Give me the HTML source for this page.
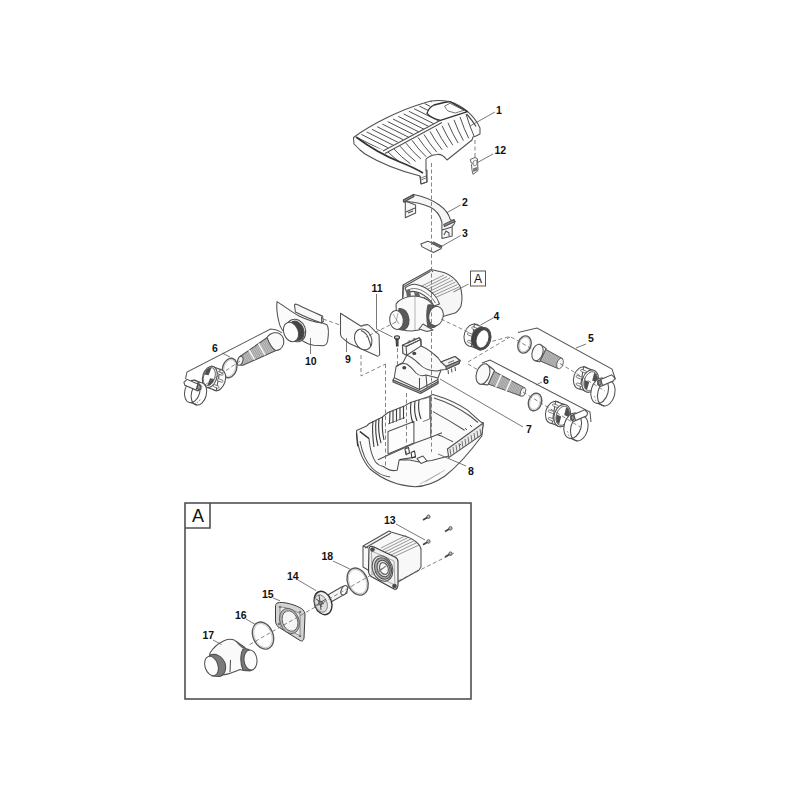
<!DOCTYPE html>
<html><head><meta charset="utf-8">
<style>
html,body{margin:0;padding:0;background:#fff;width:800px;height:800px;overflow:hidden}
svg{display:block}
text{font-family:"Liberation Sans",sans-serif;font-size:10.5px;fill:#111;font-weight:bold}
</style></head><body>
<svg width="800" height="800" viewBox="0 0 800 800">
<rect width="800" height="800" fill="#fff"/>
<g fill="none" stroke="#505050" stroke-width="1.6"><rect x="185" y="503" width="286" height="196"/><path d="M185 528 H210 V503"/></g><text x="192" y="522" style="font-size:18px;font-weight:normal">A</text><g fill="none" stroke="#555" stroke-width="1"><rect x="470.5" y="271" width="15" height="15"/></g><text x="474" y="283" style="font-size:12px;font-weight:normal">A</text><g id="p1" stroke="#505050" stroke-width="1.05" fill="none" stroke-linejoin="round">
<defs>
<clipPath id="c1L"><path d="M356 138 C375 124 400 111 424 103 L432 101 L428 113 L441 120 L383 150 C372 146 362 142 356 138Z"/></clipPath>
<clipPath id="c1R"><path d="M385 153 L441 121 L465 113 C472 118 476 124 478 132 L472 139 L447 159 C441 153 432 153 426 159 L424 171 C410 168 395 160 385 153Z"/></clipPath>
</defs>
<path fill="#fdfdfd" d="M353.5 137.5 C372 124 400 110 424 103 C432 100 440 100 449 101.5 C462 105 474 115 480 128 L480 134 L476 136 L473 137 L472 140 L447 160 C444 156 440 154 437 154.5 C432 155 428 157 426 159 L426 170 L427 170 L427 182 L421 184 L420 176 C400 171 380 163 365 154 L360 150 L354 144 Z"/>
<g clip-path="url(#c1L)" stroke-width="1"><path d="M356.0 137.0 l34 17"/><path d="M361.3 134.4 l34 17"/><path d="M366.6 131.9 l34 17"/><path d="M371.9 129.3 l34 17"/><path d="M377.1 126.7 l34 17"/><path d="M382.4 124.1 l34 17"/><path d="M387.7 121.6 l34 17"/><path d="M393.0 119.0 l34 17"/><path d="M398.3 116.4 l34 17"/><path d="M403.6 113.9 l34 17"/><path d="M408.9 111.3 l34 17"/><path d="M414.1 108.7 l34 17"/><path d="M419.4 106.1 l34 17"/><path d="M424.7 103.6 l34 17"/><path d="M430.0 101.0 l34 17"/></g><g clip-path="url(#c1R)" stroke-width="1"><path d="M388.0 152.0 q7.7 7.7 17.0 14.0"/><path d="M394.0 149.1 q7.3 8.0 16.3 14.6"/><path d="M400.0 146.2 q7.0 8.4 15.6 15.2"/><path d="M406.0 143.2 q6.7 8.7 14.9 15.8"/><path d="M412.0 140.3 q6.4 9.1 14.2 16.5"/><path d="M418.0 137.4 q6.1 9.4 13.5 17.1"/><path d="M424.0 134.5 q5.8 9.7 12.8 17.7"/><path d="M430.0 131.5 q5.5 10.1 12.2 18.3"/><path d="M436.0 128.6 q5.2 10.4 11.5 18.9"/><path d="M442.0 125.7 q4.8 10.7 10.8 19.5"/><path d="M448.0 122.8 q4.5 11.1 10.1 20.2"/><path d="M454.0 119.8 q4.2 11.4 9.4 20.8"/><path d="M460.0 116.9 q3.9 11.8 8.7 21.4"/><path d="M466.0 114.0 q3.6 12.1 8.0 22.0"/></g>
<path d="M383 151 L441 120 M385 153.5 L442 122.5" stroke-width="1.05"/>
<path d="M356 137 C368 146 385 156 400 162 C410 166 418 170 423 173" stroke-width="1.6" stroke="#333"/>
<path fill="#fff" d="M427 113.4 C428 110 430 107 434 105 L444 102.5 L450 101.6 L467.5 111.6 L440.4 120.4 C435 119 429 116 427 113.4Z" stroke-width="1.3" stroke="#333"/>
<path d="M444.7 106 L450 103.3 L464 110.3 L455.2 113 L448 111 C446 109 445 107 444.7 106Z" stroke-width="0.8"/>
<path d="M466.6 114 C471 119 474 123 476 126.5" stroke-width="1.2"/>
<path d="M420 176 L421 184 L427 182 L426 170" stroke-width="1"/>
<path d="M421 178 L426 176 M421 180 L426 178" stroke-width="0.8"/>
</g><g stroke="#555" stroke-width="0.9" fill="#fcfcfc" stroke-linejoin="round">
<path d="M470.3 159.4 L475 157.5 L477.5 158.8 L477.8 166 L478 170.6 L473 174.4 L472 170 L471.5 165 L472.5 163 L471 162.5Z"/>
<path d="M473.5 161 L476.5 160 L476.8 165 L473.8 166Z" fill="none" stroke-width="0.6"/>
<path d="M473 168.5 L477.5 166.8 L477.6 170.2 L473.2 172Z" fill="#777" stroke="none"/>
</g><g stroke="#505050" stroke-width="1.05" fill="#f6f6f6" stroke-linejoin="round">
<path d="M405.3 201 L405.3 217.8 L415.6 213 L415.6 205Z"/>
<path d="M406 212 L415 208 M408 213 L413 211" fill="none"/>
<path d="M403.4 200 L413.7 194.4 C422 196 431 199 439 204.7 C445 209 449 214 450.3 219.7 L455 221.5 L454 224.4 L452.2 226 L452.2 236 L441.9 238.4 L441.9 222 C440 215 436 210 430 207 C423 204 415 202 407.2 201.4 L403.4 202Z"/>
<path d="M403.4 200 L413.7 194.4 L414 196.5 L404 202Z" fill="#888"/>
<path d="M443.7 224.4 L454 219.5 L455 221.5 L444.5 226.5Z" fill="#888"/>
<path d="M442 230 L452 227 M444 235 L446 231 L449 233 L449 236" fill="none"/>
</g><g stroke="#505050" stroke-width="1.05" fill="#f8f8f8" stroke-linejoin="round">
<path d="M420.8 244 L427.8 241.2 L441.9 246.4 L441 248.7 L433.4 252.5 L422.2 246.9Z"/>
<path d="M433.4 242 L441.5 246 L440 247.5 L432 243.5Z" fill="#777"/>
</g><g id="motor" stroke="#505050" stroke-width="1.05" stroke-linejoin="round">
<path fill="#f6f6f6" d="M403 285 L431 269.5 L444 272.5 C451 275 456 279 460 286 C462 292 462.5 300 461 306 C459 310 457 312 455 313 L441 317 L420 312 L402.5 298Z"/>
<path fill="none" d="M404.25 286.5 L430.5 271.25 M431 269.5 L433 272"/>
<g stroke="#6a6a6a" stroke-width="0.7" fill="none">
<path d="M420 287 L444 275 M422 289 L447 276.5 M424 291 L450 278 M426 293 L453 280 M428 295 L455.5 282 M430 297 L457.5 284.5 M432 299 L459 287"/>
</g>
<path fill="#fcfcfc" d="M405 288 C409 285 413 284 416 284.4 C421 285 428 289 433 293.5 C436 296.5 438 299 439.5 304 L434 306 C431 300 426 296 420 293 C415 291 410 291 407 293 Z"/>
<path fill="none" stroke-width="0.8" d="M407.5 290.5 C411 288 416 288 421 290 C427 293 432 297 435.5 303"/>
<path fill="#666" stroke="none" d="M406 290 L410 289 L411 296 L407 298Z M414 292 L419 293 L420 296 L415 296Z M424 297 L429 300 L428 303 L423 300Z"/>
<path fill="none" d="M403.6 284.4 L403 297.5"/>
<path fill="#fafafa" d="M396 304 C399 299 405 297 413 296 C421 296 428 299 432 304 L434 322 C430 326 424 330 412 331 C404 331 399 329 397 326Z"/>
<path fill="none" stroke="#888" stroke-width="0.6" d="M415 297 L415 330"/>
<path fill="#f4f4f4" d="M423 324 L433 330 L427 331.5 L419 329Z"/>
<path fill="#5a5a5a" d="M399 308.5 C404 308 408 312 409 319 C409.5 326 406 330 402 330 L397 329 C398 322 398.5 314 399 308.5Z"/>
<ellipse cx="396.5" cy="320" rx="6.8" ry="9.5" transform="rotate(-6 396.5 320)" fill="#fdfdfd"/>
<path fill="#5a5a5a" d="M428 305 C433 304 438 308 439 315 C440 322 437 327 433 327.5 L428 327 C426.5 320 426.5 311 428 305Z"/>
<ellipse cx="436" cy="316" rx="7.2" ry="9.8" transform="rotate(12 436 316)" fill="#fdfdfd"/>
<path fill="none" stroke="#777" stroke-width="0.6" d="M393 314 L399 324 M398 313 L396 322"/>
</g><g stroke="#505050" stroke-width="1.05"><ellipse cx="472.8" cy="335.2" rx="8.5" ry="11.5" transform="rotate(18 472.8 335.2)" fill="#fcfcfc" stroke="#505050" stroke-width="1.05" /><path d="M471.3 346.5 L480.6 350.0 L483.7 327.5 L474.4 324.0Z" fill="#fcfcfc" stroke="none"/><path d="M471.3 346.5 L480.6 350.0 L483.7 327.5 L474.4 324.0Z" fill="none"/><rect x="467.4" y="341.0" width="6" height="2.2" rx="1.1" transform="rotate(20.8 470.4 342.1)" fill="#fff" stroke="#555" stroke-width="0.7"/><rect x="467.3" y="333.5" width="6" height="2.2" rx="1.1" transform="rotate(20.8 470.3 334.6)" fill="#fff" stroke="#555" stroke-width="0.7"/><rect x="471.7" y="327.5" width="6" height="2.2" rx="1.1" transform="rotate(20.8 474.7 328.6)" fill="#fff" stroke="#555" stroke-width="0.7"/><ellipse cx="482.2" cy="338.8" rx="8.5" ry="11.5" transform="rotate(18 482.2 338.8)" fill="#fcfcfc" stroke="#505050" stroke-width="1.05" /><ellipse cx="479.8" cy="337.9" rx="8.075" ry="10.924999999999999" transform="rotate(18 479.8 337.9)" fill="#3a3a3a" stroke="#505050" stroke-width="1.05" /><path d="M478.3 348.6 L480.7 349.5 L483.7 328.1 L481.3 327.2Z" fill="#3a3a3a" stroke="none"/><ellipse cx="482.2" cy="338.8" rx="8.075" ry="10.924999999999999" transform="rotate(18 482.2 338.8)" fill="#3a3a3a" stroke="#505050" stroke-width="1.05" /><ellipse cx="482.5" cy="338.9" rx="6.12" ry="9.43" transform="rotate(18 482.5 338.9)" fill="#fff" stroke="#505050" stroke-width="1.05" /></g><path d="M518 332.5 L537 328 L612 369 L615.5 379.5" fill="none" stroke="#555" stroke-width="1.05"/><ellipse cx="524.5" cy="344.5" rx="6.5" ry="8.8" transform="rotate(18 524.5 344.5)" fill="none" stroke="#5a5a5a" stroke-width="1.4" /><ellipse cx="524.5" cy="344.5" rx="5.1" ry="7.4" transform="rotate(18 524.5 344.5)" fill="none" stroke="#9a9a9a" stroke-width="0.5" /><g stroke="#505050" stroke-width="1.05"><path d="M544.8 348.9 L562.4 358.6 L557.6 368.4 L539.1 360.5Z" fill="#c4c4c4"/><path d="M546.4 349.7 L540.8 361.3" stroke="#7a7a7a" stroke-width="0.55"/><path d="M547.8 350.4 L542.2 361.9" stroke="#7a7a7a" stroke-width="0.55"/><path d="M549.1 351.1 L543.5 362.5" stroke="#7a7a7a" stroke-width="0.55"/><path d="M550.4 351.9 L544.9 363.1" stroke="#7a7a7a" stroke-width="0.55"/><path d="M551.7 352.6 L546.3 363.6" stroke="#7a7a7a" stroke-width="0.55"/><path d="M553.0 353.3 L547.7 364.2" stroke="#7a7a7a" stroke-width="0.55"/><path d="M554.3 354.1 L549.1 364.8" stroke="#7a7a7a" stroke-width="0.55"/><path d="M555.6 354.8 L550.4 365.4" stroke="#7a7a7a" stroke-width="0.55"/><path d="M556.9 355.5 L551.8 366.0" stroke="#7a7a7a" stroke-width="0.55"/><path d="M558.3 356.3 L553.2 366.6" stroke="#7a7a7a" stroke-width="0.55"/><path d="M559.6 357.0 L554.6 367.2" stroke="#7a7a7a" stroke-width="0.55"/><path d="M560.9 357.7 L556.0 367.8" stroke="#7a7a7a" stroke-width="0.55"/><ellipse cx="560.0" cy="363.5" rx="3.0250000000000004" ry="5.5" transform="rotate(18 560.0 363.5)" fill="#f4f4f4" stroke="#505050" stroke-width="0.8" /><path d="M540.1 344.4 Q544.9 347.4 546.1 348.6 L539.7 361.7 Q538.9 361.9 534.4 360.4 Z" fill="#fafafa"/><ellipse cx="537.5" cy="352.5" rx="5.27" ry="8.5" transform="rotate(18 537.5 352.5)" fill="#fafafa" stroke="#505050" stroke-width="1.05" /></g><g stroke="#505050" stroke-width="1.05"><ellipse cx="581.8" cy="377.9" rx="8" ry="11.5" transform="rotate(18 581.8 377.9)" fill="#fcfcfc" stroke="#505050" stroke-width="1.05" /><path d="M580.0 389.1 L588.4 392.3 L592.0 369.9 L583.6 366.7Z" fill="#fcfcfc" stroke="none"/><path d="M580.0 389.1 L588.4 392.3 L592.0 369.9 L583.6 366.7Z" fill="none"/><rect x="576.1" y="383.6" width="6" height="2.2" rx="1.1" transform="rotate(20.8 579.1 384.7)" fill="#fff" stroke="#555" stroke-width="0.7"/><rect x="576.1" y="376.1" width="6" height="2.2" rx="1.1" transform="rotate(20.8 579.1 377.2)" fill="#fff" stroke="#555" stroke-width="0.7"/><rect x="580.5" y="370.1" width="6" height="2.2" rx="1.1" transform="rotate(20.8 583.5 371.2)" fill="#fff" stroke="#555" stroke-width="0.7"/><ellipse cx="590.2" cy="381.1" rx="8" ry="11.5" transform="rotate(18 590.2 381.1)" fill="#fcfcfc" stroke="#505050" stroke-width="1.05" /><ellipse cx="590.7" cy="381.3" rx="6.4" ry="9.89" transform="rotate(18 590.7 381.3)" fill="#fff" stroke="#505050" stroke-width="0.8" /><path d="M592.2 380.5 L594.2 372.7 A5.3 8.5 18 0 1 596.6 382.5 Z" fill="#505050" stroke="none"/><path d="M589.2 382.0 L587.1 389.8 A5.3 8.5 18 0 1 584.8 380.1 Z" fill="#505050" stroke="none"/></g><g stroke="#505050" stroke-width="1.05" fill="none"><ellipse cx="599.7" cy="390.8" rx="8.5" ry="13" transform="rotate(15 599.7 390.8)" fill="#fff" stroke="#505050" stroke-width="1.05" /><path d="M601.6 378.0 L608.2 380.5 M597.8 403.5 L604.4 406.0"/><ellipse cx="606.3" cy="393.2" rx="8.5" ry="13" transform="rotate(15 606.3 393.2)" fill="none" stroke="#505050" stroke-width="1.05" /><path d="M596.8 402.1 l0.8 1.6" stroke="#666" stroke-width="0.7"/><path d="M595.2 399.5 l0.8 1.6" stroke="#666" stroke-width="0.7"/><path d="M594.3 396.1 l0.8 1.6" stroke="#666" stroke-width="0.7"/><path d="M597.7 380.8 L611.7 374.8 L614.7 377.8 L613.7 380.8 L600.7 386.3 L597.7 384.8 Z" fill="#fff"/><path d="M600.7 379.3 L602.7 385.8" /><ellipse cx="599.7" cy="382.8" rx="1.6" ry="2.2" fill="#999"/></g><path d="M482 363 L490 360 L590 412 L591 422" fill="none" stroke="#555" stroke-width="1.05"/><g stroke="#505050" stroke-width="1.05"><path d="M493.2 370.9 L524.8 387.9 L521.2 396.1 L487.4 383.7Z" fill="#c4c4c4"/><path d="M494.8 371.7 L489.1 384.4" stroke="#7a7a7a" stroke-width="0.55"/><path d="M496.1 372.4 L490.5 384.9" stroke="#7a7a7a" stroke-width="0.55"/><path d="M497.4 373.1 L491.9 385.4" stroke="#7a7a7a" stroke-width="0.55"/><path d="M498.8 373.8 L493.3 385.9" stroke="#7a7a7a" stroke-width="0.55"/><path d="M500.1 374.5 L494.7 386.4" stroke="#7a7a7a" stroke-width="0.55"/><path d="M501.4 375.3 L496.1 386.9" stroke="#7a7a7a" stroke-width="0.55"/><path d="M502.7 376.0 L497.6 387.5" stroke="#7a7a7a" stroke-width="0.55"/><path d="M504.1 376.7 L499.0 388.0" stroke="#7a7a7a" stroke-width="0.55"/><path d="M505.4 377.4 L500.4 388.5" stroke="#7a7a7a" stroke-width="0.55"/><path d="M506.7 378.1 L501.8 389.0" stroke="#7a7a7a" stroke-width="0.55"/><path d="M508.0 378.8 L503.2 389.5" stroke="#7a7a7a" stroke-width="0.55"/><path d="M509.3 379.5 L504.6 390.0" stroke="#7a7a7a" stroke-width="0.55"/><path d="M510.7 380.3 L506.0 390.6" stroke="#7a7a7a" stroke-width="0.55"/><path d="M512.0 381.0 L507.4 391.1" stroke="#7a7a7a" stroke-width="0.55"/><path d="M513.3 381.7 L508.9 391.6" stroke="#7a7a7a" stroke-width="0.55"/><path d="M514.6 382.4 L510.3 392.1" stroke="#7a7a7a" stroke-width="0.55"/><path d="M516.0 383.1 L511.7 392.6" stroke="#7a7a7a" stroke-width="0.55"/><path d="M517.3 383.8 L513.1 393.1" stroke="#7a7a7a" stroke-width="0.55"/><path d="M518.6 384.5 L514.5 393.7" stroke="#7a7a7a" stroke-width="0.55"/><path d="M519.9 385.2 L515.9 394.2" stroke="#7a7a7a" stroke-width="0.55"/><path d="M521.3 386.0 L517.3 394.7" stroke="#7a7a7a" stroke-width="0.55"/><path d="M522.6 386.7 L518.7 395.2" stroke="#7a7a7a" stroke-width="0.55"/><path d="M523.9 387.4 L520.2 395.7" stroke="#7a7a7a" stroke-width="0.55"/><path d="M501.3 374.7 L495.7 387.3" stroke="#f4f4f4" stroke-width="1.6"/><path d="M511.1 379.9 L506.0 391.1" stroke="#f4f4f4" stroke-width="1.6"/><ellipse cx="523.0" cy="392.0" rx="2.475" ry="4.5" transform="rotate(18 523.0 392.0)" fill="#f4f4f4" stroke="#505050" stroke-width="0.8" /><path d="M486.2 364.0 Q492.2 368.1 494.4 370.6 L488.0 384.8 Q485.4 385.1 479.2 383.8 Z" fill="#fafafa"/><ellipse cx="483" cy="374" rx="6.51" ry="10.5" transform="rotate(18 483 374)" fill="#fafafa" stroke="#505050" stroke-width="1.05" /></g><ellipse cx="535" cy="402" rx="6.5" ry="9" transform="rotate(18 535 402)" fill="none" stroke="#5a5a5a" stroke-width="1.4" /><ellipse cx="535" cy="402" rx="5.1" ry="7.6" transform="rotate(18 535 402)" fill="none" stroke="#9a9a9a" stroke-width="0.5" /><g stroke="#505050" stroke-width="1.05"><ellipse cx="553.8" cy="412.4" rx="8" ry="11.5" transform="rotate(18 553.8 412.4)" fill="#fcfcfc" stroke="#505050" stroke-width="1.05" /><path d="M552.0 423.6 L560.4 426.8 L564.0 404.4 L555.6 401.2Z" fill="#fcfcfc" stroke="none"/><path d="M552.0 423.6 L560.4 426.8 L564.0 404.4 L555.6 401.2Z" fill="none"/><rect x="548.1" y="418.1" width="6" height="2.2" rx="1.1" transform="rotate(20.8 551.1 419.2)" fill="#fff" stroke="#555" stroke-width="0.7"/><rect x="548.1" y="410.6" width="6" height="2.2" rx="1.1" transform="rotate(20.8 551.1 411.7)" fill="#fff" stroke="#555" stroke-width="0.7"/><rect x="552.5" y="404.6" width="6" height="2.2" rx="1.1" transform="rotate(20.8 555.5 405.7)" fill="#fff" stroke="#555" stroke-width="0.7"/><ellipse cx="562.2" cy="415.6" rx="8" ry="11.5" transform="rotate(18 562.2 415.6)" fill="#fcfcfc" stroke="#505050" stroke-width="1.05" /><ellipse cx="562.7" cy="415.8" rx="6.4" ry="9.89" transform="rotate(18 562.7 415.8)" fill="#fff" stroke="#505050" stroke-width="0.8" /><path d="M564.2 415.0 L566.2 407.2 A5.3 8.5 18 0 1 568.6 417.0 Z" fill="#505050" stroke="none"/><path d="M561.2 416.5 L559.1 424.3 A5.3 8.5 18 0 1 556.8 414.6 Z" fill="#505050" stroke="none"/></g><g stroke="#505050" stroke-width="1.05" fill="none"><ellipse cx="572.7" cy="425.8" rx="8.5" ry="13" transform="rotate(15 572.7 425.8)" fill="#fff" stroke="#505050" stroke-width="1.05" /><path d="M574.6 413.0 L581.2 415.5 M570.8 438.5 L577.4 441.0"/><ellipse cx="579.3" cy="428.2" rx="8.5" ry="13" transform="rotate(15 579.3 428.2)" fill="none" stroke="#505050" stroke-width="1.05" /><path d="M569.8 437.1 l0.8 1.6" stroke="#666" stroke-width="0.7"/><path d="M568.2 434.5 l0.8 1.6" stroke="#666" stroke-width="0.7"/><path d="M567.3 431.1 l0.8 1.6" stroke="#666" stroke-width="0.7"/><path d="M570.7 415.8 L584.7 409.8 L587.7 412.8 L586.7 415.8 L573.7 421.3 L570.7 419.8 Z" fill="#fff"/><path d="M573.7 414.3 L575.7 420.8" /><ellipse cx="572.7" cy="417.8" rx="1.6" ry="2.2" fill="#999"/></g><path d="M185.5 379 L187 372 L270.5 329 L275.75 329.8 C278 330.5 280 331 282 333" fill="none" stroke="#555" stroke-width="1.05"/><g stroke="#505050" stroke-width="1.05" stroke-linejoin="round">
<path fill="#c4c4c4" d="M268 337 L240 356.5 C238.5 358 238.5 362 240 364 C241 365.5 242.5 365.5 243.5 365 L276 350.5 Z"/>
<path d="M268.0 337.0 L276.0 350.5" stroke="#7a7a7a" stroke-width="0.55"/><path d="M266.5 338.0 L274.3 351.3" stroke="#7a7a7a" stroke-width="0.55"/><path d="M265.1 339.1 L272.6 352.0" stroke="#7a7a7a" stroke-width="0.55"/><path d="M263.6 340.1 L270.9 352.8" stroke="#7a7a7a" stroke-width="0.55"/><path d="M262.1 341.1 L269.2 353.6" stroke="#7a7a7a" stroke-width="0.55"/><path d="M260.6 342.1 L267.4 354.3" stroke="#7a7a7a" stroke-width="0.55"/><path d="M259.2 343.2 L265.7 355.1" stroke="#7a7a7a" stroke-width="0.55"/><path d="M257.7 344.2 L264.0 355.8" stroke="#7a7a7a" stroke-width="0.55"/><path d="M256.2 345.2 L262.3 356.6" stroke="#7a7a7a" stroke-width="0.55"/><path d="M254.7 346.2 L260.6 357.4" stroke="#7a7a7a" stroke-width="0.55"/><path d="M253.3 347.3 L258.9 358.1" stroke="#7a7a7a" stroke-width="0.55"/><path d="M251.8 348.3 L257.2 358.9" stroke="#7a7a7a" stroke-width="0.55"/><path d="M250.3 349.3 L255.5 359.7" stroke="#7a7a7a" stroke-width="0.55"/><path d="M248.8 350.3 L253.8 360.4" stroke="#7a7a7a" stroke-width="0.55"/><path d="M247.4 351.4 L252.1 361.2" stroke="#7a7a7a" stroke-width="0.55"/><path d="M245.9 352.4 L250.3 361.9" stroke="#7a7a7a" stroke-width="0.55"/><path d="M244.4 353.4 L248.6 362.7" stroke="#7a7a7a" stroke-width="0.55"/><path d="M242.9 354.4 L246.9 363.5" stroke="#7a7a7a" stroke-width="0.55"/><path d="M241.5 355.5 L245.2 364.2" stroke="#7a7a7a" stroke-width="0.55"/><path d="M240.0 356.5 L243.5 365.0" stroke="#7a7a7a" stroke-width="0.55"/>
<path d="M258.5 343.5 L265 355.2 M249 350 L254.5 359.6" stroke="#f2f2f2" stroke-width="1.6"/>
<ellipse cx="240.2" cy="360.8" rx="2.6" ry="4.6" transform="rotate(18 240.2 360.8)" fill="#f2f2f2"/>
<path fill="#fafafa" d="M267 337.5 C268.5 335 271 333.5 274 332.8 C278 332.2 281.5 334 283.2 338 C284.5 342 283.5 346.5 280 349.3 C278.5 350.3 277 350.6 275.5 350.5 C272 348.5 269 343 267 337.5 Z"/>
</g><ellipse cx="229.7" cy="368" rx="7" ry="10" transform="rotate(18 229.7 368)" fill="none" stroke="#5a5a5a" stroke-width="1.4" /><ellipse cx="229.7" cy="368" rx="5.6" ry="8.6" transform="rotate(18 229.7 368)" fill="none" stroke="#9a9a9a" stroke-width="0.5" /><g stroke="#505050" stroke-width="1.05"><ellipse cx="218.2" cy="380.1" rx="7" ry="11" transform="rotate(18 218.2 380.1)" fill="#fcfcfc" stroke="#505050" stroke-width="1.05" /><path d="M216.2 390.8 L207.8 387.6 L211.8 366.2 L220.2 369.4Z" fill="#fcfcfc" stroke="none"/><path d="M216.2 390.8 L207.8 387.6 L211.8 366.2 L220.2 369.4Z" fill="none"/><rect x="213.1" y="385.3" width="6" height="2.2" rx="1.1" transform="rotate(-159.2 216.1 386.4)" fill="#fff" stroke="#555" stroke-width="0.7"/><rect x="217.1" y="379.4" width="6" height="2.2" rx="1.1" transform="rotate(-159.2 220.1 380.5)" fill="#fff" stroke="#555" stroke-width="0.7"/><rect x="217.3" y="372.4" width="6" height="2.2" rx="1.1" transform="rotate(-159.2 220.3 373.5)" fill="#fff" stroke="#555" stroke-width="0.7"/><ellipse cx="209.8" cy="376.9" rx="7" ry="11" transform="rotate(18 209.8 376.9)" fill="#fcfcfc" stroke="#505050" stroke-width="1.05" /><ellipse cx="209.3" cy="376.7" rx="5.6000000000000005" ry="9.459999999999999" transform="rotate(18 209.3 376.7)" fill="#fff" stroke="#505050" stroke-width="0.8" /><path d="M208.6 375.2 L204.5 374.4 A4.6 8.1 18 0 1 211.4 368.1 Z" fill="#505050" stroke="none"/><path d="M210.1 378.2 L214.2 379.0 A4.6 8.1 18 0 1 207.3 385.4 Z" fill="#505050" stroke="none"/></g><g stroke="#505050" stroke-width="1.05" fill="none"><ellipse cx="198.9" cy="393.8" rx="7.5" ry="11.5" transform="rotate(15 198.9 393.8)" fill="#fff" stroke="#505050" stroke-width="1.05" /><path d="M200.6 382.6 L194.0 380.1 M197.2 405.1 L190.6 402.6"/><ellipse cx="192.3" cy="391.4" rx="7.5" ry="11.5" transform="rotate(15 192.3 391.4)" fill="none" stroke="#505050" stroke-width="1.05" /><path d="M195.5 402.8 l-0.8 1.6" stroke="#666" stroke-width="0.7"/><path d="M197.9 401.6 l-0.8 1.6" stroke="#666" stroke-width="0.7"/><path d="M200.1 399.4 l-0.8 1.6" stroke="#666" stroke-width="0.7"/><path d="M200.9 385.3 L186.9 379.3 L183.9 382.3 L184.9 385.3 L197.9 390.8 L200.9 389.3 Z" fill="#fff"/><path d="M197.9 383.8 L195.9 390.3" /><ellipse cx="198.9" cy="387.3" rx="1.6" ry="2.2" fill="#999"/></g><g stroke="#505050" stroke-width="1.05" stroke-linejoin="round">
<path fill="#fbfbfb" d="M277 301.6 C284 306 292 312 299 316 C305 319 312 322 322.5 323 L326.9 324.75 C328.5 327 328.5 335 327.7 340.5 C327 344 325 345.5 323.4 345.75 L313.7 345.3 C310 344.5 307 343.5 305 342.2 L300.6 339.6 L288 336 C283 332 279.5 326 278.75 321.25 C277 314 276.5 306 277 301.6Z"/>
<path fill="#f8f8f8" d="M294.5 305 C295 304 296 304 297 304.5 C305 308 314 312.5 322.5 316 L323.4 321.25 L321.6 323 C313 320 303 316 295.4 312 Z"/>
<path fill="none" d="M321.6 316.5 L321.6 323"/>
<ellipse cx="296" cy="330.5" rx="9.5" ry="11.5" transform="rotate(-22 296 330.5)" fill="#fbfbfb"/>
<ellipse cx="296.5" cy="330.8" rx="7.2" ry="10" transform="rotate(-22 296.5 330.8)" fill="#444"/>
<path d="M287.3 323.5 L292.8 322.3 L300.2 339.3 L294.7 340.5 Z" fill="#444" stroke="none"/>
<ellipse cx="291" cy="332" rx="7.2" ry="10" transform="rotate(-22 291 332)" fill="#fdfdfd"/>
</g><g stroke="#505050" stroke-width="1.05" stroke-linejoin="round">
<path fill="#fbfbfb" d="M340.5 313.25 L361.1 326.3 C363 325 365 324.6 367.3 324.6 C369 325 370 326 370.8 327 L374.9 331.1 L379 334.6 L379.7 354.5 C379.5 355.5 378.5 356.2 377.6 356.2 L349.4 343.5 L344 339.4 C342 338 340.5 336.5 340.5 334.6 Z"/>
<ellipse cx="363.2" cy="339.4" rx="8.3" ry="10.8" transform="rotate(-24 363.2 339.4)" fill="#fff"/>
<path fill="none" d="M361.1 330.4 C365 332 368 336 369 340 C370 343 370.8 345 370.8 346.3"/>
</g><g stroke="#333" stroke-width="1.05">
<ellipse cx="397" cy="337.5" rx="2.5" ry="1.8" fill="#ccc"/>
<path d="M396 339 L396.5 346 L398 346 L398 339Z" fill="#666"/>
</g><g stroke="#505050" stroke-width="1.05" stroke-linejoin="round" fill="#fafafa">
<path d="M402.4 345.25 L419.25 337.75 L421.1 339.6 L421.1 345.9 C426 348 431 351 438 357.75 L441 362 L455 356.5 L460 360.5 L459 363.5 L446 369.5 L441 370 L438 378 L438 383 L420.5 393 L393 380 L394.25 377.75 L396.1 366.5 L403 362.5 L406.75 355.25 L403 353.4 Z"/>
<path d="M402.4 345.25 L419.25 337.75 L420.5 339.6 L406.1 346.5 Z M406.1 346.5 L406.75 355.25 L403 353.4 L402.4 345.25Z" fill="#f4f4f4"/>
<path fill="none" d="M406.1 346.5 L420.5 339.6 L421.1 345.9 L406.75 355.25"/>
<path fill="none" d="M406.75 355.25 C410 356 414 359 419.25 364 C423 368 428 371 437.4 370.9 L441 370"/>
<path d="M441 362 L455 356.5 L460 360.5 L446 366.5 Z" fill="#f2f2f2"/>
<path d="M446 366.5 L460 360.5 L459 363.5 L446 369.5 Z" fill="#999"/>
<path d="M448 363 L454 360.5" fill="none" stroke="#777"/>
<path d="M448 370 L448.5 374 M451.5 368.5 L452 372.5 M455 367 L455.5 371" fill="none" stroke="#555"/>
<path fill="none" d="M396.1 366.5 C399 364 403 363 406.75 364 C410 366 413 369 416 373 C419 376 422 376.5 426 375 L438 378"/>
<path fill="none" d="M394.25 377.75 L419.5 389.5 L438 379.5"/>
<path d="M393 380 L420.5 391.5 L438 381.5 L438 383.5 L420.5 393.5 L393 382 Z" fill="#b0b0b0"/>
<path fill="none" d="M419.5 378 L419.5 389.5 M426 375 L427 387"/>
<ellipse cx="414.25" cy="353.4" rx="2" ry="1.7" fill="#444" stroke="none"/>
<ellipse cx="404.25" cy="367.75" rx="2" ry="1.8" fill="#444" stroke="none"/>
<path d="M408 344 l0 -2.5 l2 -1 l0 2.5 M413 341.5 l0 -2.5 l2 -1 l0 2.5" fill="none" stroke-width="0.7"/>
</g><g stroke="#505050" stroke-width="1.05" stroke-linejoin="round">
<path fill="#fbfbfb" d="M356.5 430.5 L366.6 426 L368.9 423.75 L382.4 417 L388 412.5 L404.9 405.75 L410.5 402.4 L428.5 396.75 L433 394.4 C445 398 458 403 467.5 410.2 L480.4 421.7 L483.3 423 L481.8 436 C470 452 458 466 445 476 C435 483 425 486.5 415 486.7 C398 486 382 479 370 469 C362 460 357 447 356.5 430.5Z"/>
<path fill="none" d="M360 441 C362 452 366 462 372 468 C377 473 383 476 390 477 M359.9 431.6 L368.9 438.4 L370 446.25 C371 452 373 458 375.6 462 C378 465 380.5 466 383.5 466.5 C388 470 392 471.5 397.2 470.2 L399.25 459.7 L409.6 459.9 L419.2 462 L431.6 460.5 L448.8 456"/>
<path fill="none" stroke="#333" stroke-width="1.3" d="M359.9 431.6 L368.9 438.4"/>
<path fill="none" d="M377.9 459.7 L415 442.9 L430.75 437.25 L442 432.75"/>
<path fill="#fdfdfd" d="M388 431.6 L413.9 421.5 L413.9 442.9 L388 454 Z"/>
<path fill="none" d="M430.75 395.6 L430.75 437"/>
<path fill="none" d="M434 398 C447 402 460 409 470 416 L478 422.5 M433 411.6 C445 418 455 424 464.6 430.3 M437 434.6 C442 436 447 439 453.1 441.8"/>
<path fill="#eaeaea" d="M447.4 449 L483.3 423 L481.8 434.6 L448.8 457.6 Z"/>
<g stroke="#555" stroke-width="0.8" fill="none">
<path d="M450 449 L451 456 M453 447 L454 454 M456 445 L457 452 M459 443 L460 450 M462 441 L463 448 M465 439 L466 446 M468 437 L469 444 M471 435 L472 442 M474 433 L475 440 M477 431 L478 438 M480 429 L481 435"/>
<path d="M373 421 C372 430 373 440 374 447 M376 420 C375 430 376 438 378 446 M379 418.5 C378 428 379 436 381 443 M382.5 417 C382 426 382.5 434 384 440" stroke="#3a3a3a" stroke-width="1.1"/>
<path d="M390 411.5 L389.5 424 M393 410.5 L393 423 M396.5 409 L396.5 421.5 M400 407.5 L400 420 M403.5 406.5 L403.5 419" stroke="#3a3a3a" stroke-width="1.1"/>
<path d="M388 424 L405 417.5"/>
<path d="M411 402 C410 410 411 418 413 423 M415 401 C414 409 415 416 417 421 M419 400 C418 407 419 414 421 419" stroke="#3a3a3a" stroke-width="1.1"/>
<path d="M423 399 L429.6 397 L429.6 419 L423 421.5" fill="#fff"/>
<path d="M465 428 L467 430 M470 425 L472 427 M459 446 L461 444" stroke-width="1"/>
<path d="M425 482 L445 470 M420 484 L440 473" stroke="#999" stroke-width="0.6"/>
</g>
<path fill="none" stroke="#333" stroke-width="1.1" d="M356.5 432.75 L357.6 446.25"/>
<path fill="#fff" stroke="#333" stroke-width="1.05" d="M404.9 449 L408.5 447.5 L409.5 453 L406 454.5Z M411 452.5 L414.5 451 L415.5 456.5 L412 458Z"/>
<path fill="#fff" d="M417 458.6 L423 456 L427 461 L421 463.5Z"/>
<path fill="none" stroke="#333" stroke-width="1.1" d="M400 459.5 L416 457"/>
</g><g stroke="#505050" stroke-width="1.05" stroke-linejoin="round">
<path fill="#f8f8f8" d="M363 546 L389 531 L391 532 L401 535 C408 537 413 539 415 541 C419 544 421 547 421 550 L421 567 L419 570 L398 582 L368 570 L363 567 Z"/>
<path fill="none" d="M365 548 L391 533 M363 546 L368 548"/>
<g stroke="#6a6a6a" stroke-width="0.7" fill="none">
<path d="M381 548 L406 535.5 M383 550 L409 537 M385 552 L412 538.5 M387 554 L414.5 540.5 M389 556 L417 542.5 M391 558 L419 545"/>
</g>
<path fill="#f0f0f0" stroke="#3a3a3a" stroke-width="1.1" d="M369 548 C370 546 372 546 374 547 L395 557 C397 558 398 560 398 562 L398 585 C398 588 396 590 394 589 L372 577 C370 576 368.5 573 368.5 571 Z"/>
<path fill="none" d="M371.5 551 L394 561 L395 585 L372 574 Z" stroke="#777" stroke-width="0.6"/>
<ellipse cx="382.5" cy="568.5" rx="10" ry="13" transform="rotate(-20 382.5 568.5)" fill="#e6e6e6"/>
<ellipse cx="383" cy="568.5" rx="8.2" ry="11" transform="rotate(-20 383 568.5)" fill="#aaa"/>
<ellipse cx="383.5" cy="568.5" rx="6.2" ry="8.5" transform="rotate(-20 383.5 568.5)" fill="#ddd"/>
<ellipse cx="384" cy="568.5" rx="4.2" ry="6" transform="rotate(-20 384 568.5)" fill="#f8f8f8"/>
<path d="M378 572 L386 566" stroke="#888" stroke-width="1.5"/>
<circle cx="372.5" cy="549.5" r="1.8" fill="#444"/><circle cx="394.5" cy="586" r="1.8" fill="#444"/>
</g><g stroke="#444" stroke-width="0.8"><path d="M423 520 L428 517" stroke-width="1.8"/><ellipse cx="428.5" cy="516.7" rx="1.6" ry="1.8" fill="#bbb"/></g><g stroke="#444" stroke-width="0.8"><path d="M445 531.6 L450 528.6" stroke-width="1.8"/><ellipse cx="450.5" cy="528.3000000000001" rx="1.6" ry="1.8" fill="#bbb"/></g><g stroke="#444" stroke-width="0.8"><path d="M423 544.75 L428 541.75" stroke-width="1.8"/><ellipse cx="428.5" cy="541.45" rx="1.6" ry="1.8" fill="#bbb"/></g><g stroke="#444" stroke-width="0.8"><path d="M445 557 L450 554" stroke-width="1.8"/><ellipse cx="450.5" cy="553.7" rx="1.6" ry="1.8" fill="#bbb"/></g><path d="M398 581 L456 552" fill="none" stroke="#666" stroke-width="0.8" stroke-dasharray="4 2.5"/><ellipse cx="357.6" cy="581.6" rx="10" ry="14" transform="rotate(-22 357.6 581.6)" fill="none" stroke="#5a5a5a" stroke-width="1.4" /><ellipse cx="357.6" cy="581.6" rx="8.6" ry="12.6" transform="rotate(-22 357.6 581.6)" fill="none" stroke="#9a9a9a" stroke-width="0.5" /><g stroke="#505050" stroke-width="1.05">
<path fill="#f6f6f6" d="M326 596 L341.5 587 C344 585 347.5 588 347 593 L331 602Z"/>
<ellipse cx="344.2" cy="590.2" rx="2.8" ry="5" transform="rotate(25 344.2 590.2)" fill="#fafafa"/>
<ellipse cx="323" cy="603" rx="8.5" ry="12" transform="rotate(-20 323 603)" fill="#f0f0f0" stroke="#333" stroke-width="1.4"/>
<ellipse cx="321" cy="603.5" rx="6" ry="9" transform="rotate(-20 321 603.5)" fill="#dedede" stroke="#666" stroke-width="0.7"/>
<path d="M316 599 L324 604 M319 595 L321 610 M315 606 L326 599 M318 600 L322 607" stroke="#555" stroke-width="1"/>
<circle cx="320.5" cy="603" r="1.8" fill="#888"/>
</g><g stroke="#3a3a3a" stroke-width="1" stroke-linejoin="round">
<path fill="#d4d4d4" d="M277 603 C283 601 296 605 301.7 608.7 C303.5 610 305 612 305 615 L304 638 C303.5 641 302 641.5 300 640.5 L278.5 627 C276 625 275.5 623 275.5 620 L275.5 607 C275.5 605 276 603.5 277 603Z"/>
<path fill="#ececec" stroke="#666" stroke-width="0.7" d="M280 607 C286 607 296 611 300 614 L300 636 L280 624 Z"/>
<ellipse cx="289.5" cy="621" rx="9.5" ry="13" transform="rotate(-20 289.5 621)" fill="#b8b8b8" stroke="#555" stroke-width="0.8"/>
<ellipse cx="290" cy="621" rx="7.5" ry="10.5" transform="rotate(-20 290 621)" fill="#f4f4f4" stroke="#555" stroke-width="0.8"/>
<g fill="#777" stroke="none"><circle cx="280" cy="607" r="1.3"/><circle cx="300" cy="612" r="1.3"/><circle cx="300" cy="636" r="1.3"/><circle cx="279" cy="624" r="1.3"/></g>
</g><ellipse cx="263" cy="635.6" rx="10" ry="14" transform="rotate(-22 263 635.6)" fill="none" stroke="#5a5a5a" stroke-width="1.4" /><ellipse cx="263" cy="635.6" rx="8.6" ry="12.6" transform="rotate(-22 263 635.6)" fill="none" stroke="#9a9a9a" stroke-width="0.5" /><g stroke="#505050" stroke-width="1.05" stroke-linejoin="round">
<path fill="#fafafa" d="M210 653 C213 648 219 643 224 640.7 C228 639 233 638.5 236.5 641.6 C240 644 243 646 246 648.6 L252 655 L254 668 C248 672 244 671 240 669.6 C234 672 228 675 222 675 L213 675 C209 670 208 660 210 653Z"/>
<path fill="none" d="M230.5 660 L230 672 M236 641 C238 643 240 647 244 648"/>
<path fill="#7a7a7a" d="M210 655 C216 653 222 656 225 663 C227 670 224 676 219 676.5 L212 676 C210 670 209 661 210 655Z"/>
<ellipse cx="211.5" cy="666" rx="6.5" ry="10" transform="rotate(-18 211.5 666)" fill="#fdfdfd"/>
<path fill="#7a7a7a" d="M243 649 C249 648 254 652 256 659 C257 666 254 670 250 671 L243 670 C240 663 240 654 243 649Z"/>
<ellipse cx="250.5" cy="660" rx="6.5" ry="10" transform="rotate(-5 250.5 660)" fill="#fdfdfd"/>
</g><path d="M249.6 644.6 L382.5 568.5" fill="none" stroke="#666" stroke-width="0.8" stroke-dasharray="4 2.5"/><g fill="none" stroke="#666" stroke-width="0.8" stroke-dasharray="4 2.5"><path d="M431.5 163 V452"/><path d="M475 140 V158"/><path d="M397.5 348 V366"/><path d="M406.5 393 V460"/><path d="M385.5 364 V468"/><path d="M361 355 V376 L385.5 364"/><path d="M323 319 L340 325"/><path d="M396 322 L366 337"/><path d="M441 319 L470 333"/><path d="M486 343 L510 336.5 L534 350 M560 363.5 L605 391"/><path d="M468 362 L510 337 M468 364 L478 370 M523 392 L580 427"/><path d="M240 361 L196 391"/></g><text x="496" y="114">1</text><text x="494.5" y="154">12</text><text x="462" y="206">2</text><text x="462" y="237">3</text><text x="493.5" y="320">4</text><text x="588" y="342">5</text><text x="212" y="352">6</text><text x="543" y="384">6</text><text x="526" y="433">7</text><text x="468" y="475">8</text><text x="345" y="363">9</text><text x="305" y="365">10</text><text x="371.5" y="291.5">11</text><text x="384" y="523.5">13</text><text x="287" y="579.5">14</text><text x="262" y="597.5">15</text><text x="235" y="619">16</text><text x="202.5" y="639">17</text><text x="321.5" y="560">18</text><g fill="none" stroke="#555" stroke-width="0.8">
<path d="M495 112 L470 126"/>
<path d="M493 154 L477.5 162.5"/>
<path d="M460.6 205 L447 212.6"/>
<path d="M460.6 235.6 L441.4 246.4"/>
<path d="M468.5 284 L453.5 292"/>
<path d="M493 318 L480.6 325"/>
<path d="M586 344 L576 348"/>
<path d="M222 353 L230 357"/>
<path d="M542 382 L536 385"/>
<path d="M376.5 294 V329 L392.5 337"/>
<path d="M310.5 354 V338"/>
<path d="M346.5 352 V338"/>
<path d="M396 524 L425 540"/>
<path d="M333 561 L349.8 569"/>
<path d="M298 580 L316 590.6"/>
<path d="M273 598 L280 600.75"/>
<path d="M246 619 L255 624.4"/>
<path d="M213 640 L221.5 644.6"/>
<path d="M466 466 L438 454"/>
<path d="M523 427 L440 379"/>
</g></svg>
</body></html>
